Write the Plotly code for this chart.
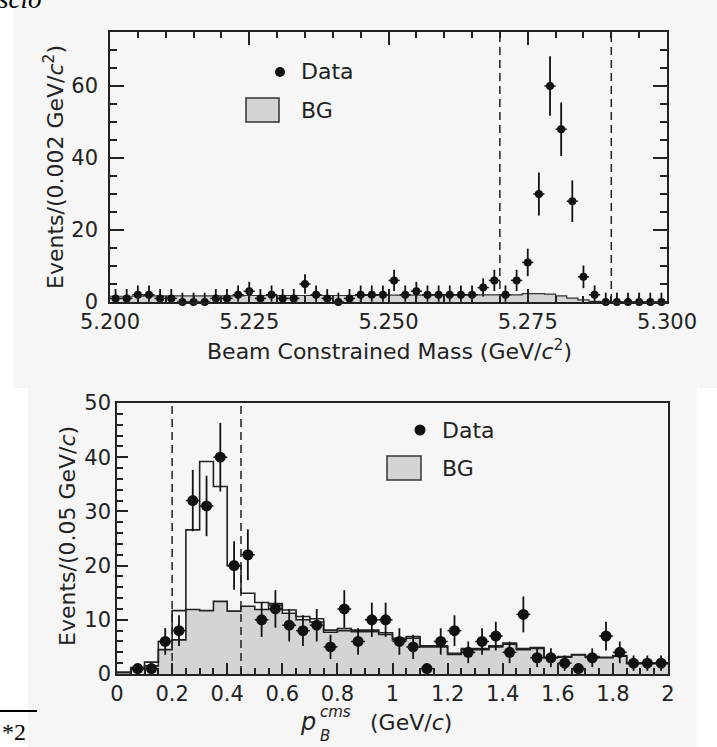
import numpy as np
import plotly.graph_objects as go

W, H = 717, 747

def PX(x):
    return x / W

def PY(y):
    return 1 - y / H

# ---------------- top panel: beam constrained mass ----------------
mbc_lo = 5.200
mbc_binw = 0.002
mbc_counts = [1, 1, 2, 2, 1, 1, 0, 0, 0, 1,
              1, 2, 3, 1, 2, 1, 1, 5, 2, 1,
              0, 1, 2, 2, 2, 6, 2, 3, 2, 2,
              2, 2, 2, 4, 6, 2, 6, 11, 30, 60,
              48, 28, 7, 2, 0, 0, 0, 0, 0, 0]
mbc_bg = [1.6, 1.6, 1.6, 1.7, 1.7, 1.7, 1.7, 1.7, 1.7, 1.7,
          1.7, 1.7, 1.8, 1.8, 1.8, 1.8, 1.8, 1.8, 1.8, 1.8,
          1.8, 1.8, 1.8, 1.8, 1.9, 1.9, 1.9, 1.9, 1.9, 1.9,
          1.9, 1.9, 2.0, 2.0, 2.0, 2.0, 2.0, 2.3, 2.3, 2.2,
          1.7, 1.1, 0.6, 0.2, 0.0, 0.0, 0.0, 0.0, 0.0, 0.0]
mbc_tickvals = [5.200, 5.225, 5.250, 5.275, 5.300]
mbc_ticktext = ["5.200", "5.225", "5.250", "5.275", "5.300"]
mbc_yticks = [0, 20, 40, 60]
mbc_cuts = [5.27, 5.29]

# ---------------- bottom panel: p_B^cms ----------------
p_lo = 0.0
p_binw = 0.05
p_counts = [None, 1, 1, 6, 8, 32, 31, 40, 20, 22,
            10, 12, 9, 8, 9, 5, 12, 6, 10, 10,
            6, 5, 1, 6, 8, 4, 6, 7, 4, 11,
            3, 3, 2, 1, 3, 7, 4, 2, 2, 2]
p_total = [0.3, 1.2, 2.2, 6.0, 11.7, 26.6, 39.2, 34.6, 20.0, 14.9,
           13.2, 13.0, 11.8, 10.6, 10.2, 8.1, 8.4, 8.1, 8.1, 7.6,
           6.6, 6.9, 5.2, 5.2, 3.8, 4.7, 4.7, 5.2, 5.7, 4.7,
           4.9, 3.1, 3.2, 3.6, 3.2, 3.1, 3.4, 2.0, 2.0, 2.0]
p_bg = [0.3, 0.9, 1.5, 4.5, 6.3, 11.9, 11.7, 13.4, 11.6, 12.5,
        11.9, 12.7, 11.2, 10.0, 9.6, 7.7, 8.0, 7.8, 7.8, 7.3,
        6.3, 6.6, 5.0, 5.0, 3.6, 4.5, 4.5, 5.0, 5.5, 4.5,
        4.7, 3.0, 3.1, 3.5, 3.1, 3.0, 3.3, 1.9, 1.9, 1.9]
p_tickvals = [0, 0.2, 0.4, 0.6, 0.8, 1.0, 1.2, 1.4, 1.6, 1.8, 2.0]
p_ticktext = ["0", "0.2", "0.4", "0.6", "0.8", "1", "1.2", "1.4", "1.6", "1.8", "2"]
p_yticks = [0, 10, 20, 30, 40, 50]
p_cuts = [0.2, 0.45]

FONT = "DejaVu Sans"
INK = "#222222"
BGFILL = "#d4d4d4"
PANEL = "#f6f6f6"


def step_xy(lo, w, vals):
    edges = [lo + w * i for i in range(len(vals) + 1)]
    return edges, list(vals) + [vals[-1]]


def centers(lo, w, n):
    return [lo + w * (i + 0.5) for i in range(n)]


fig = go.Figure()

# top: background histogram
ex, ey = step_xy(mbc_lo, mbc_binw, mbc_bg)
fig.add_trace(go.Scatter(x=ex, y=ey, mode="lines", line=dict(shape="hv", color="#333", width=1.2),
                         fill="tozeroy", fillcolor=BGFILL, xaxis="x", yaxis="y", hoverinfo="skip"))
mc = np.array(mbc_counts, dtype=float)
up = np.maximum(np.sqrt(mc) + 0.5, 2.6)
dn = np.minimum(np.sqrt(mc) + 0.5, mc)
fig.add_trace(go.Scatter(x=centers(mbc_lo, mbc_binw, len(mbc_counts)), y=mbc_counts, mode="markers",
                         marker=dict(size=8, color="#111"), cliponaxis=False,
                         error_y=dict(type="data", symmetric=False, array=up, arrayminus=dn,
                                      thickness=1.8, width=0, color="#111"),
                         error_x=dict(type="constant", value=mbc_binw / 2, thickness=1.5, width=0, color="#111"),
                         xaxis="x", yaxis="y"))

# bottom: background + total histograms
bx, by = step_xy(p_lo, p_binw, p_bg)
fig.add_trace(go.Scatter(x=bx, y=by, mode="lines", line=dict(shape="hv", color="#222", width=1.6),
                         fill="tozeroy", fillcolor=BGFILL, xaxis="x2", yaxis="y2", hoverinfo="skip"))
tx, ty = step_xy(p_lo, p_binw, p_total)
fig.add_trace(go.Scatter(x=tx, y=ty, mode="lines", line=dict(shape="hv", color="#222", width=1.6),
                         xaxis="x2", yaxis="y2", hoverinfo="skip"))
pc = np.array([np.nan if v is None else v for v in p_counts], dtype=float)
perr = np.sqrt(pc)
fig.add_trace(go.Scatter(x=centers(p_lo, p_binw, len(p_counts)), y=pc, mode="markers",
                         marker=dict(size=11, color="#111"), cliponaxis=False,
                         error_y=dict(type="data", array=perr, thickness=1.8, width=0, color="#111"),
                         error_x=dict(type="constant", value=p_binw / 2, thickness=1.5, width=0, color="#111"),
                         xaxis="x2", yaxis="y2"))

tickfont = dict(family=FONT, size=21, color=INK)


def ax(**kw):
    base = dict(showgrid=False, zeroline=False, showline=True, linecolor=INK, linewidth=1.5,
                ticks="inside", tickcolor=INK, tickwidth=1.5, tickfont=tickfont, automargin=False)
    base.update(kw)
    return base


fig.update_layout(
    template="none",
    width=W, height=H, autosize=False,
    margin=dict(l=0, r=0, t=0, b=0, pad=0, autoexpand=False),
    paper_bgcolor="white", plot_bgcolor="rgba(0,0,0,0)", showlegend=False,
    xaxis=ax(domain=[PX(110), PX(667)], range=[5.2, 5.3], tickmode="array", tickvals=mbc_tickvals,
             ticktext=mbc_ticktext, ticklen=13, mirror="allticks", anchor="y", ticklabelstandoff=0,
             minor=dict(tick0=5.2, dtick=0.005, ticks="inside", ticklen=6, tickwidth=1.5, tickcolor=INK)),
    yaxis=ax(domain=[PY(302), PY(32)], range=[0, 75], tickmode="array", tickvals=mbc_yticks,
             ticklen=14, mirror="allticks", anchor="x", ticklabelstandoff=6,
             minor=dict(tick0=0, dtick=5, ticks="inside", ticklen=7, tickwidth=1.5, tickcolor=INK)),
    xaxis2=ax(domain=[PX(117), PX(668)], range=[0, 2], tickmode="array", tickvals=p_tickvals,
              ticktext=p_ticktext, ticklen=11, mirror=True, anchor="y2", ticklabelstandoff=0,
              minor=dict(tick0=0, dtick=0.05, ticks="inside", ticklen=6, tickwidth=1.5, tickcolor=INK)),
    yaxis2=ax(domain=[PY(674), PY(403)], range=[0, 50], tickmode="array", tickvals=p_yticks,
              ticklen=11, mirror=True, anchor="x2", ticklabelstandoff=0,
              minor=dict(tick0=0, dtick=2, ticks="inside", ticklen=6, tickwidth=1.5, tickcolor=INK)),
)

shapes = [
    dict(type="rect", xref="paper", yref="paper", x0=PX(13), x1=PX(717), y0=PY(388), y1=PY(0),
         fillcolor=PANEL, line=dict(width=0), layer="below"),
    dict(type="rect", xref="paper", yref="paper", x0=PX(28), x1=PX(697), y0=PY(747), y1=PY(388),
         fillcolor=PANEL, line=dict(width=0), layer="below"),
    dict(type="line", xref="paper", yref="paper", x0=0, x1=PX(37), y0=PY(711), y1=PY(711),
         line=dict(color="#000", width=2)),
]
for c in mbc_cuts:
    shapes.append(dict(type="line", xref="x", yref="y domain", x0=c, x1=c, y0=0, y1=1,
                       line=dict(color=INK, width=1.5, dash="8px,5px")))
for c in p_cuts:
    shapes.append(dict(type="line", xref="x2", yref="y2 domain", x0=c, x1=c, y0=0, y1=1,
                       line=dict(color=INK, width=1.5, dash="8px,5px")))

# hand-made legends
def legend(dot_xy, dot_d, box, text_x, y_data, y_bg):
    s = [
        dict(type="circle", xref="paper", yref="paper",
             x0=PX(dot_xy[0] - dot_d / 2), x1=PX(dot_xy[0] + dot_d / 2),
             y0=PY(dot_xy[1] + dot_d / 2), y1=PY(dot_xy[1] - dot_d / 2),
             fillcolor="#111", line=dict(width=0)),
        dict(type="rect", xref="paper", yref="paper", x0=PX(box[0]), x1=PX(box[1]),
             y0=PY(box[3]), y1=PY(box[2]), fillcolor=BGFILL, line=dict(color="#333", width=1.5)),
    ]
    a = [
        dict(text="Data", x=PX(text_x), y=PY(y_data), xref="paper", yref="paper",
             xanchor="left", yanchor="middle", showarrow=False, font=dict(family=FONT, size=22, color=INK)),
        dict(text="BG", x=PX(text_x), y=PY(y_bg), xref="paper", yref="paper",
             xanchor="left", yanchor="middle", showarrow=False, font=dict(family=FONT, size=22, color=INK)),
    ]
    return s, a

s1, a1 = legend((280, 72), 10, (246, 279, 98, 122), 299, 72, 110)
s2, a2 = legend((420, 430), 11, (387, 421, 456, 480), 440, 430, 468)
shapes += s1 + s2

tfont = dict(family=FONT, size=22, color=INK)
annotations = a1 + a2 + [
    dict(text="Beam Constrained Mass (GeV/<i>c</i><sup>2</sup>)", x=PX(389), y=PY(350),
         xref="paper", yref="paper", xanchor="center", yanchor="middle", showarrow=False, font=tfont),
    dict(text="Events/(0.002 GeV/<i>c</i><sup>2</sup>)", x=PX(54), y=PY(167), textangle=-90,
         xref="paper", yref="paper", xanchor="center", yanchor="middle", showarrow=False, font=tfont),
    dict(text="Events/(0.05 GeV/<i>c</i>)", x=PX(67), y=PY(536), textangle=-90,
         xref="paper", yref="paper", xanchor="center", yanchor="middle", showarrow=False, font=tfont),
    dict(text="<i>p</i>", x=PX(318), y=PY(722), xref="paper", yref="paper", xanchor="right",
         yanchor="middle", showarrow=False, font=dict(family=FONT, size=24, color=INK)),
    dict(text="<i>cms</i>", x=PX(318), y=PY(712), xref="paper", yref="paper", xanchor="left",
         yanchor="middle", showarrow=False, font=dict(family=FONT, size=15, color=INK)),
    dict(text="<i>B</i>", x=PX(318), y=PY(736), xref="paper", yref="paper", xanchor="left",
         yanchor="middle", showarrow=False, font=dict(family=FONT, size=15, color=INK)),
    dict(text="(GeV/<i>c</i>)", x=PX(368), y=PY(722), xref="paper", yref="paper", xanchor="left",
         yanchor="middle", showarrow=False, font=tfont),
    dict(text="<i>scio</i>", x=PX(44), y=PY(16), xref="paper", yref="paper", xanchor="right",
         yanchor="bottom", showarrow=False, font=dict(family="Liberation Serif", size=27, color="#000")),
    dict(text="*2", x=PX(0), y=PY(747), xref="paper", yref="paper", xanchor="left",
         yanchor="bottom", showarrow=False, font=dict(family="Liberation Serif", size=24, color="#000")),
]

fig.update_layout(shapes=shapes, annotations=annotations)
fig.write_html("out.html")
